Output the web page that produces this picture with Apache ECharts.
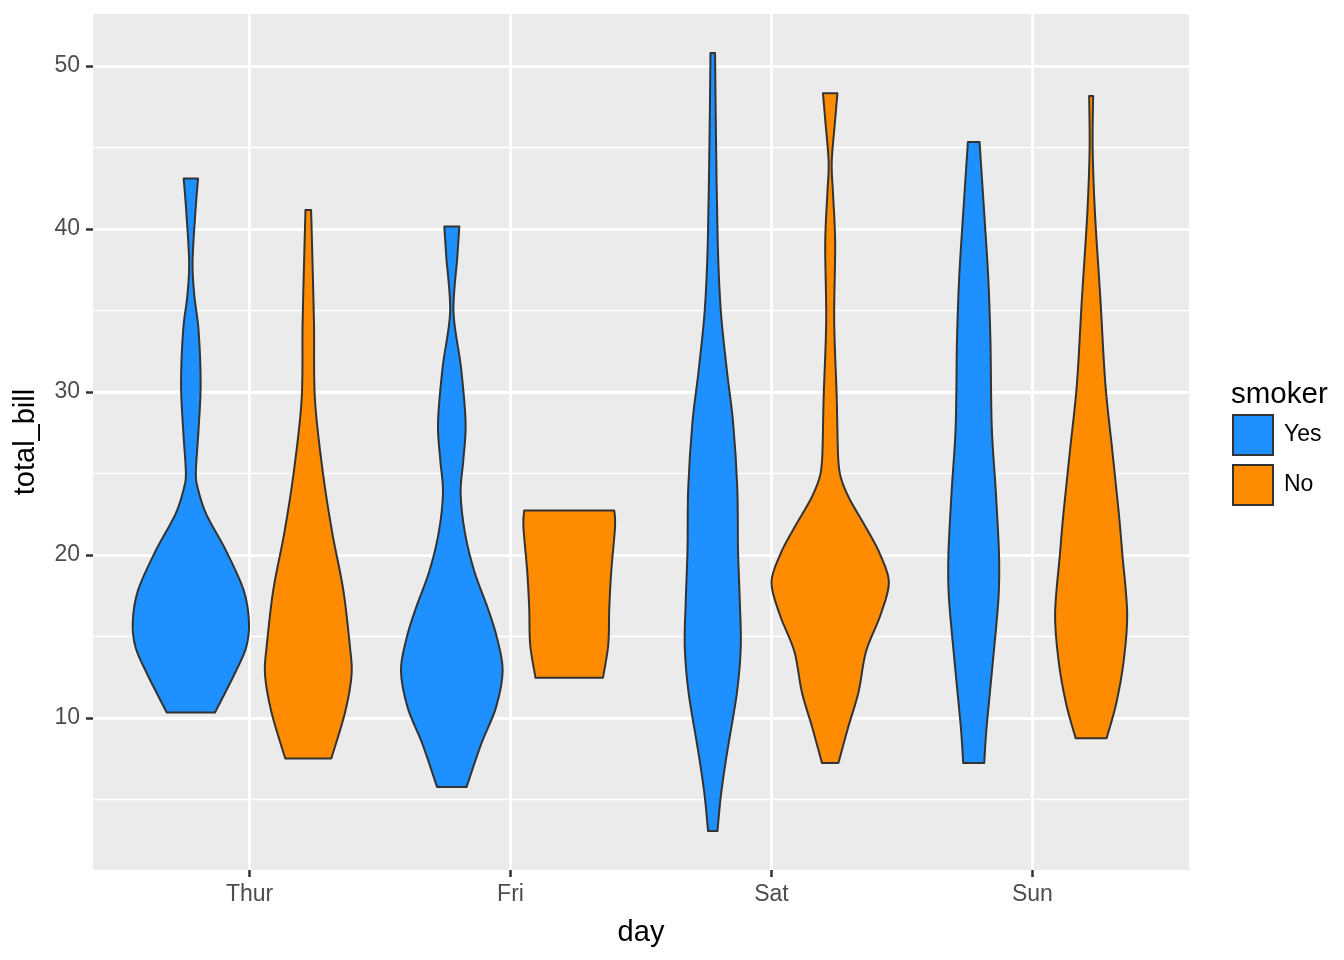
<!DOCTYPE html>
<html>
<head>
<meta charset="utf-8">
<script src="https://cdn.jsdelivr.net/npm/echarts@6/dist/echarts.min.js"></script>
<style>
  html, body { margin: 0; padding: 0; background: #fff; }
  #chart { width: 1344px; height: 960px; }
</style>
</head>
<body>
<div id="chart"></div>
<script>
// categories
const days = ['Thur', 'Fri', 'Sat', 'Sun'];
const smokers = ['Yes', 'No'];
const yTicks = [10, 20, 30, 40, 50];
const yMinorTicks = [5, 15, 25, 35, 45];

// violin profiles: [total_bill, relative density]
const thurYes = [[10.34, 0.41], [12.68, 0.74], [14.32, 0.94], [15.9, 0.99], [17.84, 0.9], [20.19, 0.61],
  [22.53, 0.26], [24.17, 0.114], [25.1, 0.085], [27.7, 0.131], [30.5, 0.167], [33.8, 0.131],
  [35.9, 0.06], [38.0, 0.029], [41.28, 0.082], [43.11, 0.123]];
const thurNo = [[7.52, 0.392], [10.34, 0.626], [12.68, 0.738], [14.32, 0.711], [17.84, 0.597],
  [21.35, 0.409], [24.86, 0.256], [29.5, 0.114], [34.2, 0.097], [38.9, 0.065], [41.17, 0.048]];
const friYes = [[5.78, 0.252], [8.39, 0.498], [10.66, 0.753], [12.92, 0.866], [14.96, 0.767],
  [16.77, 0.61], [19.0, 0.384], [21.3, 0.227], [23.8, 0.15], [25.83, 0.196], [28.1, 0.235],
  [31.5, 0.157], [34.9, 0.029], [38.3, 0.094], [40.16, 0.128]];
const friNo = [[12.47, 0.574], [14.5, 0.665], [16.77, 0.682], [19.03, 0.716], [21.76, 0.781], [22.73, 0.767]];
const satYes = [[3.07, 0.08], [5.34, 0.141], [7.84, 0.242], [11.6, 0.413], [14.4, 0.477], [17.22, 0.46],
  [20.34, 0.43], [24.09, 0.418], [28.15, 0.346], [31.28, 0.242], [35.03, 0.136], [39.1, 0.085],
  [45.35, 0.056], [50.81, 0.039]];
const satNo = [[7.25, 0.14], [9.4, 0.303], [11.59, 0.482], [14.09, 0.61], [16.28, 0.852], [18.31, 1.0],
  [20.03, 0.852], [21.59, 0.626], [23.46, 0.327], [24.71, 0.185], [25.96, 0.136], [29.7, 0.111],
  [34.4, 0.068], [39.1, 0.085], [42.2, 0.048], [44.1, 0.026], [46.6, 0.082], [48.33, 0.123]];
const sunYes = [[7.25, 0.179], [9.57, 0.222], [13.5, 0.327], [17.42, 0.423], [20.04, 0.431], [23.97, 0.375],
  [27.9, 0.307], [33.13, 0.285], [37.06, 0.247], [40.98, 0.179], [45.35, 0.099]];
const sunNo = [[8.77, 0.264], [10.88, 0.426], [13.5, 0.554], [16.38, 0.614], [20.04, 0.532], [22.66, 0.469],
  [26.59, 0.355], [30.51, 0.242], [35.75, 0.157], [40.98, 0.065], [44.9, 0.026], [48.17, 0.034]];

const profiles = {
  Yes: [thurYes, friYes, satYes, sunYes],
  No: [thurNo, friNo, satNo, sunNo]
};
const colors = { Yes: '#1E90FF', No: '#FF8C00' };

const FONT = 'Liberation Sans';
const DODGE = 0.225; // half of the 0.45 violin width, in category units

// Catmull-Rom through the points -> bezier segments
function curve(pts) {
  let d = '';
  for (let i = 0; i < pts.length - 1; i++) {
    const p0 = pts[Math.max(i - 1, 0)];
    const p1 = pts[i];
    const p2 = pts[i + 1];
    const p3 = pts[Math.min(i + 2, pts.length - 1)];
    const c1 = [p1[0] + (p2[0] - p0[0]) / 6, p1[1] + (p2[1] - p0[1]) / 6];
    const c2 = [p2[0] - (p3[0] - p1[0]) / 6, p2[1] - (p3[1] - p1[1]) / 6];
    d += ' C' + c1[0] + ',' + c1[1] + ' ' + c2[0] + ',' + c2[1] + ' ' + p2[0] + ',' + p2[1];
  }
  return d;
}

function makeRender(group) {
  const offset = group === 'Yes' ? -DODGE : DODGE;
  return function (params, api) {
    const di = api.value(0) - 1;
    const cx = api.value(0) + offset;
    const prof = profiles[group][di];
    const right = prof.map(p => api.coord([cx + p[1] * DODGE, p[0]]));
    const left = prof.map(p => api.coord([cx - p[1] * DODGE, p[0]])).reverse();
    let d = 'M' + left[left.length - 1][0] + ',' + left[left.length - 1][1];
    d += ' L' + right[0][0] + ',' + right[0][1];
    d += curve(right);
    d += ' L' + left[0][0] + ',' + left[0][1];
    d += curve(left);
    d += ' Z';
    return {
      type: 'path',
      shape: { pathData: d },
      style: { fill: colors[group], stroke: '#333333', lineWidth: 2, lineJoin: 'round' }
    };
  };
}

const chart = echarts.init(document.getElementById('chart'));

const option = {
  backgroundColor: '#ffffff',
  animation: false,
  textStyle: { fontFamily: FONT },
  title: {
    text: 'smoker',
    left: 1231,
    top: 380,
    padding: 0,
    textStyle: { fontFamily: FONT, fontSize: 29.5, fontWeight: 'normal', color: '#000' }
  },
  legend: {
    data: smokers,
    orient: 'vertical',
    left: 1232,
    top: 414,
    padding: 0,
    itemWidth: 40,
    itemHeight: 40,
    itemGap: 8,
    icon: 'rect',
    selectedMode: false,
    itemStyle: { borderColor: '#333333', borderWidth: 2 },
    textStyle: { fontFamily: FONT, fontSize: 23, color: '#000', padding: [0, 0, 0, 6] }
  },
  grid: {
    left: 93,
    right: 155,
    top: 14,
    bottom: 90,
    show: true,
    backgroundColor: '#EBEBEB',
    borderWidth: 0
  },
  xAxis: {
    type: 'value',
    min: 0.4,
    max: 4.6,
    name: 'day',
    nameLocation: 'middle',
    nameGap: 48,
    nameTextStyle: { fontFamily: FONT, fontSize: 29, color: '#000' },
    axisLine: { show: false },
    axisTick: { show: true, customValues: [1, 2, 3, 4], length: 7, lineStyle: { color: '#333333', width: 2.5 } },
    axisLabel: {
      customValues: [1, 2, 3, 4],
      formatter: v => days[Math.round(v) - 1],
      fontFamily: FONT, fontSize: 23, color: '#4D4D4D', margin: 13
    },
    splitLine: { show: true, lineStyle: { color: '#ffffff', width: 2.8 } }
  },
  yAxis: [{
    type: 'value',
    min: 0.683,
    max: 53.197,
    name: 'total_bill',
    nameLocation: 'middle',
    nameGap: 53,
    nameRotate: 90,
    nameTextStyle: { fontFamily: FONT, fontSize: 29, color: '#000' },
    axisLine: { show: false },
    axisTick: { show: true, customValues: yTicks, length: 7, lineStyle: { color: '#333333', width: 2.5 } },
    axisLabel: { customValues: yTicks, fontFamily: FONT, fontSize: 23, color: '#4D4D4D', margin: 13 },
    splitLine: { show: true, lineStyle: { color: '#ffffff', width: 2.8 } }
  }, {
    type: 'value',
    min: 0.683,
    max: 53.197,
    position: 'left',
    axisLine: { show: false },
    axisTick: { show: false, customValues: yMinorTicks },
    axisLabel: { show: false, customValues: yMinorTicks },
    splitLine: { show: true, lineStyle: { color: '#ffffff', width: 1.4 } }
  }],
  series: smokers.map(g => ({
    name: g,
    type: 'custom',
    renderItem: makeRender(g),
    itemStyle: { color: colors[g], borderColor: '#333333', borderWidth: 2 },
    encode: { x: 0, y: 1 },
    data: days.map((d, i) => [i + 1, profiles[g][i][0][0]])
  }))
};

chart.setOption(option);
</script>
</body>
</html>
